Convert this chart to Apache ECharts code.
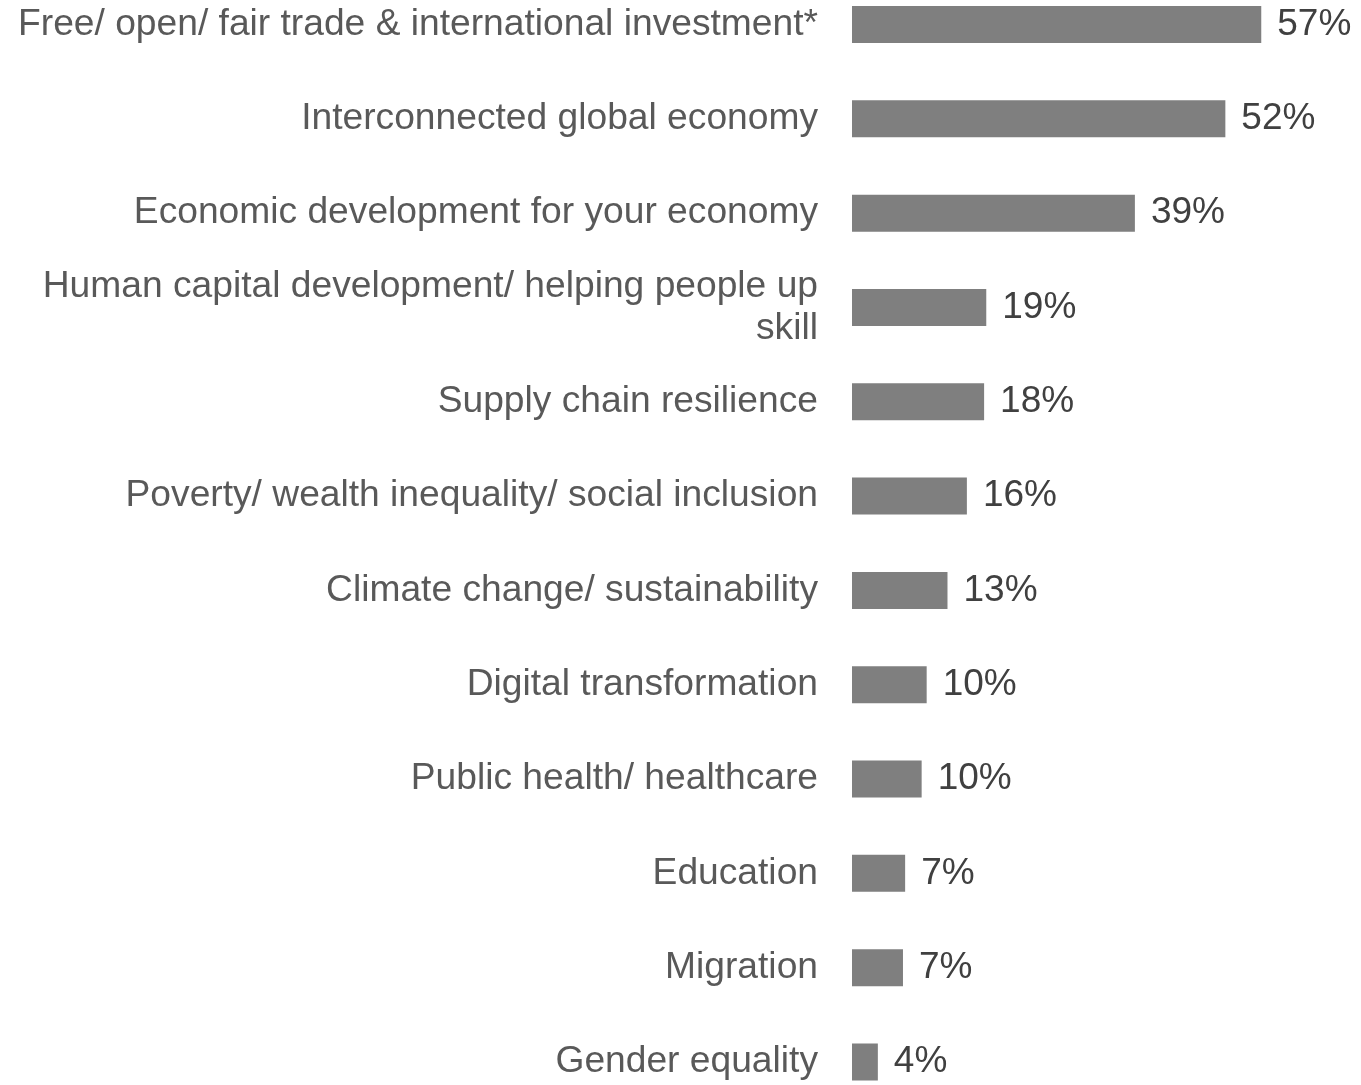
<!DOCTYPE html>
<html>
<head>
<meta charset="utf-8">
<script src="https://cdn.jsdelivr.net/npm/echarts@6/dist/echarts.min.js"></script>
<style>
html,body{margin:0;padding:0;background:#fff;}
#chart{width:1361px;height:1085px;}
</style>
</head>
<body>
<div id="chart"></div>
<script>
const categories = [
  "Free/ open/ fair trade & international investment*",
  "Interconnected global economy",
  "Economic development for your economy",
  "Human capital development/ helping people up\nskill",
  "Supply chain resilience",
  "Poverty/ wealth inequality/ social inclusion",
  "Climate change/ sustainability",
  "Digital transformation",
  "Public health/ healthcare",
  "Education",
  "Migration",
  "Gender equality"
];
const values = [57.0, 52.0, 39.4, 18.7, 18.4, 16.0, 13.3, 10.4, 9.7, 7.4, 7.1, 3.6];
const xTicks = [0, 60];

const chart = echarts.init(document.getElementById('chart'));
chart.setOption({
  animation: false,
  backgroundColor: '#ffffff',
  grid: { left: 852, width: 430.8, top: 24.5, height: 1039.5, containLabel: false },
  xAxis: {
    type: 'value', min: xTicks[0], max: xTicks[1],
    show: false
  },
  yAxis: {
    type: 'category', data: categories, inverse: true, boundaryGap: false,
    axisLine: { show: false }, axisTick: { show: false }, splitLine: { show: false },
    axisLabel: {
      margin: 34, fontFamily: 'Liberation Sans, Arial, sans-serif', fontSize: 37.2,
      color: '#595959', align: 'right', lineHeight: 42, padding: [4, 0, 0, 0]
    }
  },
  series: [{
    type: 'bar', data: values, barWidth: 37,
    itemStyle: { color: '#7f7f7f' },
    label: {
      show: true, position: 'right', distance: 16, padding: [4, 0, 0, 0],
      fontFamily: 'Liberation Sans, Arial, sans-serif', fontSize: 37, color: '#404040',
      formatter: p => Math.round(p.value) + '%'
    }
  }]
});
</script>
</body>
</html>
